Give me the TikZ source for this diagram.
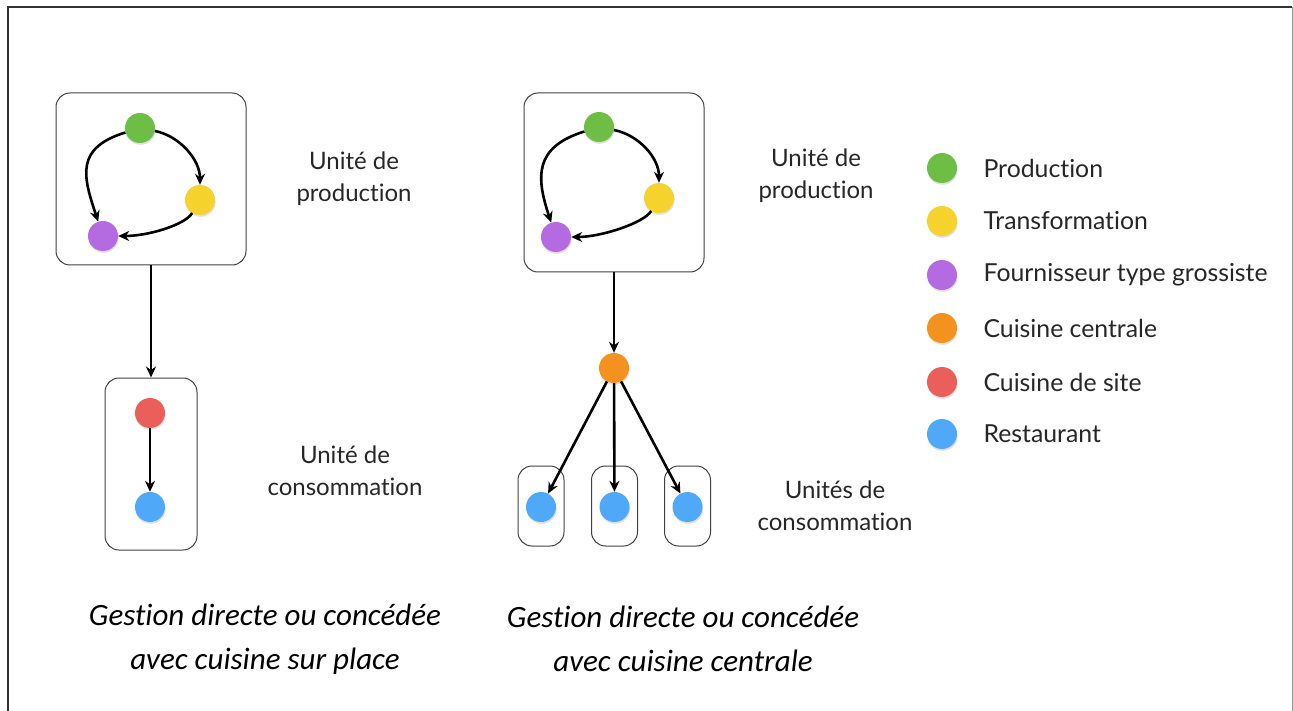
\documentclass[tikz,border=0pt]{standalone}
\usepackage{fontspec}
\setmainfont{Lato}[Ligatures=CommonOff]
\newfontfamily\titlefont{Carlito}[Ligatures=CommonOff]
\usetikzlibrary{arrows.meta,shadows}

\definecolor{cprod}{HTML}{6EBE46}
\definecolor{ctrans}{HTML}{F5D22C}
\definecolor{cfour}{HTML}{B46AE0}
\definecolor{ccent}{HTML}{F3921F}
\definecolor{csite}{HTML}{EB5F5A}
\definecolor{crest}{HTML}{50A8F8}

\begin{document}
\begin{tikzpicture}[x=1pt,y=-1pt,
	box/.style={draw=black!75,line width=1pt,rounded corners=14pt,inner sep=0pt},
	dot/.style={circle,inner sep=0pt,minimum size=30pt,drop shadow={shadow xshift=0.6pt,shadow yshift=-1.8pt,opacity=0.25}},
	arr/.style={-{Stealth[length=11pt,width=10pt]},line width=2.6pt},
	lbl/.style={align=center,font=\fontsize{24}{32}\selectfont,text=black!85},
	ttl/.style={align=center,font=\titlefont\itshape\fontsize{31}{44}\selectfont},
	leg/.style={anchor=west,font=\fontsize{24.8}{28}\selectfont,text=black!85}]
	\useasboundingbox (0,0) rectangle (1293,711);
	%\draw [help lines,step=50] (0,0) grid (1293,711);
	\draw[black!80,line width=2.5pt] (8,711) -- (8,7) -- (1292,7);
	\draw[black!40,line width=1pt] (1292,7) -- (1292,711);

	% cuisine sur place
	\node[box,minimum width=190pt,minimum height=172pt] (prodA) at (151,179) {};
	\node[dot,fill=cprod] (pA) at (140,128) {};
	\node[dot,fill=ctrans] (tA) at (200,200) {};
	\node[dot,fill=cfour] (fA) at (103,236) {};
	\draw[arr] (pA) .. controls +(40,8) and +(0,-40) .. (tA);
	\draw[arr] (pA) .. controls +(-65,20) and +(-20,-60) .. (fA);
	\draw[arr] (tA) .. controls +(-15,25) and +(45,0) .. (fA);
	\node[box,minimum width=92pt,minimum height=172pt] (consA) at (151,464) {};
	\node[dot,fill=csite] (sA) at (150,413) {};
	\node[dot,fill=crest] (rA) at (150,507) {};
	\draw[arr] (prodA.south) -- (consA.north);
	\draw[arr] (sA) -- (rA);
	\node[lbl] (lpA) at (354,179) {Unité de\\production};
	\node[lbl] (lcA) at (345,471) {Unité de\\consommation};
	\node[ttl] (tiA) at (265,639) {Gestion directe ou concédée\\avec cuisine sur place};

	% cuisine centrale
	\node[box,minimum width=180pt,minimum height=179pt] (prodB) at (614,182.5) {};
	\node[dot,fill=cprod] (pB) at (599,127) {};
	\node[dot,fill=ctrans] (tB) at (659,198) {};
	\node[dot,fill=cfour] (fB) at (556,237) {};
	\draw[arr] (pB) .. controls +(40,8) and +(0,-40) .. (tB);
	\draw[arr] (pB) .. controls +(-65,20) and +(-20,-60) .. (fB);
	\draw[arr] (tB) .. controls +(-15,25) and +(45,0) .. (fB);
	\node[dot,fill=ccent] (cc) at (614,368) {};
	\draw[arr] (prodB.south) -- (cc);
	\foreach \i/\x in {1/541,2/614.5,3/687.5}{
		\node[box,minimum width=46pt,minimum height=80pt] (uB\i) at (\x,506) {};
		\node[dot,fill=crest] (rB\i) at (\x,507) {};
		\draw[arr] (cc) -- (rB\i);
	}
	\node[lbl] (lpB) at (816,176) {Unité de\\production};
	\node[lbl] (lcB) at (835,506) {Unités de\\consommation};
	\node[ttl] (tiB) at (683,639) {Gestion directe ou concédée\\avec cuisine centrale};

	% legende
	\foreach \n/\y/\c/\t in {1/168/cprod/Production,2/221/ctrans/Transformation,
		3/275/cfour/Fournisseur type grossiste,4/328/ccent/Cuisine centrale,
		5/382/csite/Cuisine de site,6/434/crest/Restaurant}{
		\node[dot,fill=\c] (dot\n) at (942,\y) {};
		\node[leg] (leg\n) at (980,\y) {\t};
	}
\end{tikzpicture}
\end{document}
